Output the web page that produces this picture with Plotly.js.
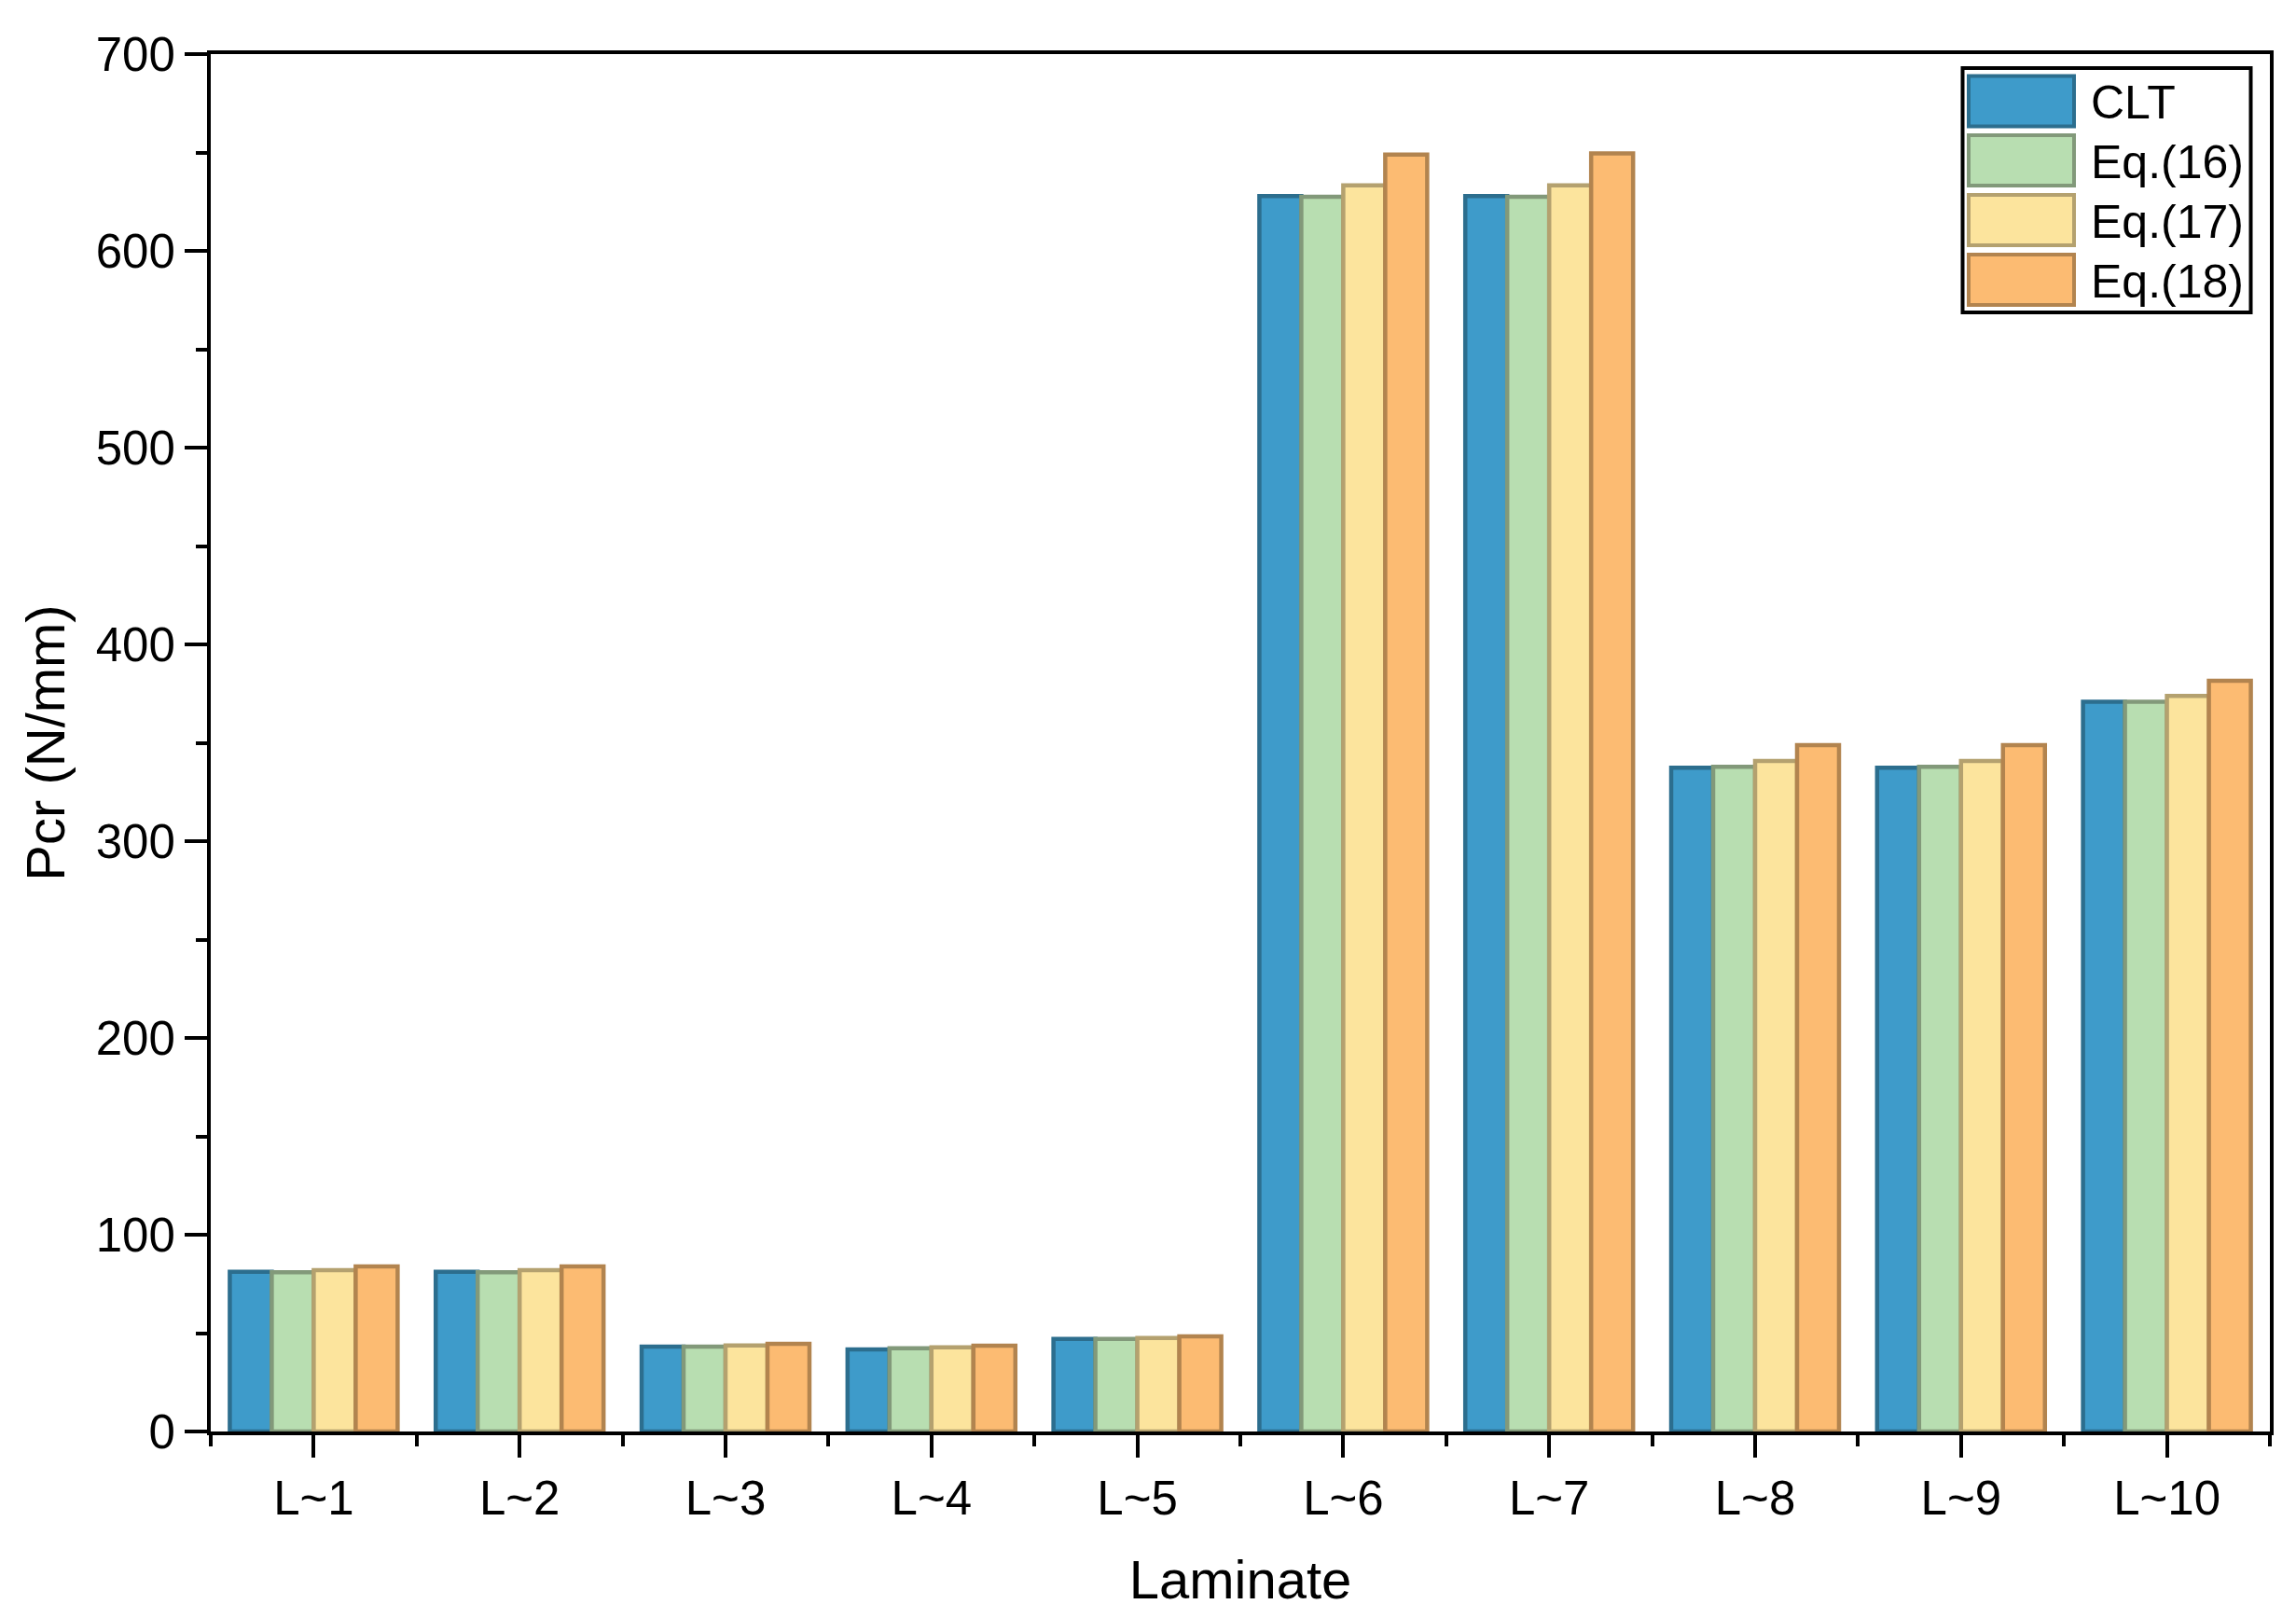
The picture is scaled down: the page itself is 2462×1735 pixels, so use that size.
<!DOCTYPE html>
<html>
<head>
<meta charset="utf-8">
<script src="https://cdn.plot.ly/plotly-3.0.1.min.js"></script>
<style>
  html, body { margin: 0; padding: 0; background: #ffffff; }
  #chart { width: 2462px; height: 1735px; }
</style>
</head>
<body>
<div id="chart"></div>
<script>
// ---- data ----
const categories = ['L~1', 'L~2', 'L~3', 'L~4', 'L~5', 'L~6', 'L~7', 'L~8', 'L~9', 'L~10'];
const seriesNames = ['CLT', 'Eq.(16)', 'Eq.(17)', 'Eq.(18)'];
const clt  = [81.2, 81.2, 43.1, 41.7, 47.0, 627.8, 627.8, 337.3, 337.3, 370.9];
const eq16 = [80.9, 80.9, 43.1, 42.3, 47.0, 627.5, 627.5, 337.8, 337.8, 370.8];
const eq17 = [82.0, 82.0, 43.7, 42.8, 47.5, 633.3, 633.3, 340.8, 340.8, 373.8];
const eq18 = [83.9, 83.9, 44.5, 43.6, 48.3, 648.9, 649.5, 348.8, 348.8, 381.5];
const yTickVals = [0, 100, 200, 300, 400, 500, 600, 700];

// ---- styling ----
const fillColors = ['#3E9BCA', '#B8DEB1', '#FCE49D', '#FCBB72'];
const lineColors = ['#2C6E8E', '#82997A', '#B4A16F', '#B2844F'];
const seriesValues = [clt, eq16, eq17, eq18];

const W = 2462, H = 1735;
const M = { l: 226, r: 28, t: 58, b: 200 };
const FONT = 'Arial, "Liberation Sans", Helvetica, sans-serif';

const xIdx = categories.map((_, i) => i);

const traces = seriesValues.map((vals, k) => ({
  type: 'bar',
  name: seriesNames[k],
  x: xIdx,
  y: vals,
  marker: { color: fillColors[k], line: { color: lineColors[k], width: 4.5 } },
  showlegend: false,
  hoverinfo: 'x+y+name'
}));

// custom legend (large swatches as in the reference), in pixel -> paper coords
const pw = W - M.l - M.r, ph = H - M.t - M.b;
const px = v => (v - M.l) / pw;
const py = v => (H - M.b - v) / ph;

const shapes = [];
const annotations = [];
// legend frame
shapes.push({ type: 'rect', xref: 'paper', yref: 'paper',
  x0: px(2104.5), x1: px(2413.5), y0: py(335), y1: py(73),
  line: { color: '#000000', width: 4 }, fillcolor: 'rgba(255,255,255,1)', layer: 'above' });
const rowCenters = [108.5, 172, 236, 300];
seriesNames.forEach((name, k) => {
  const c = rowCenters[k];
  shapes.push({ type: 'rect', xref: 'paper', yref: 'paper',
    x0: px(2111), x1: px(2224), y0: py(c + 27), y1: py(c - 27),
    line: { color: lineColors[k], width: 4 }, fillcolor: fillColors[k], layer: 'above' });
  annotations.push({ xref: 'paper', yref: 'paper', x: px(2240), y: py(c + 2),
    xanchor: 'left', yanchor: 'middle', showarrow: false, text: name,
    font: { family: FONT, size: 50, color: '#000000' } });
});

const layout = {
  width: W, height: H,
  margin: M,
  paper_bgcolor: '#ffffff',
  plot_bgcolor: '#ffffff',
  barmode: 'group',
  bargap: 0.185,
  bargroupgap: 0,
  font: { family: FONT, color: '#000000' },
  xaxis: {
    range: [-0.5, categories.length - 0.5],
    tickmode: 'array',
    tickvals: xIdx,
    ticktext: categories,
    ticks: 'outside', ticklen: 24, tickwidth: 4, tickcolor: '#000000',
    minor: { tickmode: 'linear', tick0: -0.5, dtick: 1, ticks: 'outside', ticklen: 12, tickwidth: 4, tickcolor: '#000000', showgrid: false },
    showline: true, linecolor: '#000000', linewidth: 4, mirror: true,
    showgrid: false, zeroline: false,
    tickfont: { family: FONT, size: 51, color: '#000000' },
    title: { text: 'Laminate', font: { family: FONT, size: 58, color: '#000000' }, standoff: 40 },
    fixedrange: true
  },
  yaxis: {
    range: [0, 700],
    tickmode: 'array',
    tickvals: yTickVals,
    ticks: 'outside', ticklen: 24, tickwidth: 4, tickcolor: '#000000',
    minor: { tickmode: 'linear', tick0: 50, dtick: 100, ticks: 'outside', ticklen: 12, tickwidth: 4, tickcolor: '#000000', showgrid: false },
    showline: true, linecolor: '#000000', linewidth: 4, mirror: true,
    showgrid: false, zeroline: false,
    tickfont: { family: FONT, size: 51, color: '#000000' },
    title: { text: 'Pcr (N/mm)', font: { family: FONT, size: 58, color: '#000000' }, standoff: 15 },
    fixedrange: true
  },
  shapes: shapes,
  annotations: annotations
};

Plotly.newPlot('chart', traces, layout, { displayModeBar: false, staticPlot: true });
</script>
</body>
</html>
